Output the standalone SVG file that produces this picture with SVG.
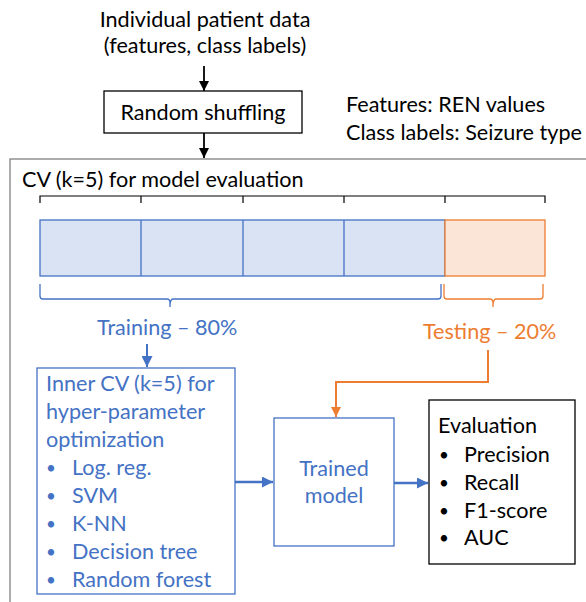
<svg xmlns="http://www.w3.org/2000/svg" width="586" height="602" viewBox="0 0 586 602">
<defs>
<style>
text{font-family:Lato,"Liberation Sans",sans-serif;font-size:21.6px;}
.k{fill:#000;}
.b{fill:#4472C4;}
.o{fill:#ED7D31;}
.m{text-anchor:middle;}
.dot{font-size:17px;}
</style>
<marker id="ak" viewBox="0 0 10 10" refX="10" refY="5" markerWidth="10" markerHeight="10" markerUnits="userSpaceOnUse" orient="auto"><path d="M0,0 L10,5 L0,10 z" fill="#000"/></marker>
<marker id="ab" viewBox="0 0 10 10" refX="10" refY="5" markerWidth="11" markerHeight="11" markerUnits="userSpaceOnUse" orient="auto"><path d="M0,0 L10,5 L0,10 z" fill="#4472C4"/></marker>
<marker id="ao" viewBox="0 0 10 10" refX="10" refY="5" markerWidth="10" markerHeight="10" markerUnits="userSpaceOnUse" orient="auto"><path d="M0,0 L10,5 L0,10 z" fill="#ED7D31"/></marker>
</defs>
<rect width="586" height="602" fill="#fff"/>

<g id="input">
<text class="k m" x="205" y="27">Individual patient data</text>
<text class="k m" x="205" y="53">(features, class labels)</text>
</g>
<g id="shuffle">
<rect x="104" y="91" width="198" height="42" fill="#fff" stroke="#000" stroke-width="1.3"/>
<text class="k m" x="203" y="120">Random shuffling</text>
</g>
<g id="legend">
<text class="k" x="346" y="112">Features: REN values</text>
<text class="k" x="346" y="140">Class labels: Seizure type</text>
</g>
<g id="outer">
<rect x="10" y="159" width="600" height="460" fill="none" stroke="#808080" stroke-width="1.3"/>
<text class="k" x="22" y="187">CV (k=5) for model evaluation</text>
</g>
<g id="folds">
<path d="M40,203 V196 H545 V203 M141,196 V203 M243,196 V203 M344,196 V203 M445,196 V203" fill="none" stroke="#000" stroke-width="1.2"/>
<rect x="40" y="220" width="405" height="56" fill="#DAE3F3" stroke="#4472C4" stroke-width="1.3"/>
<path d="M141,220 V276 M243,220 V276 M344,220 V276" stroke="#4472C4" stroke-width="1.3"/>
<rect x="445" y="220" width="100" height="56" fill="#FBE5D6" stroke="#ED7D31" stroke-width="1.3"/>
<path d="M40,284 V296 Q40,299 43,299 H167 Q170,299 170,303 V307 Q170,299 173,299 H438 Q441,299 441,296 V284" fill="none" stroke="#4472C4" stroke-width="1.3"/>
<path d="M444,284 V296 Q444,299 447,299 H490 Q493,299 493,303 V307 Q493,299 496,299 H540 Q543,299 543,296 V284" fill="none" stroke="#ED7D31" stroke-width="1.3"/>
<text class="b" x="97" y="335">Training – 80%</text>
<text class="o" x="423" y="339">Testing – 20%</text>
</g>
<g id="inner">
<rect x="37" y="368" width="198" height="226" fill="none" stroke="#4472C4" stroke-width="1.3"/>
<text class="b" x="46" y="391">Inner CV (k=5) for</text>
<text class="b" x="46" y="419">hyper-parameter</text>
<text class="b" x="46" y="447">optimization</text>
<text class="b dot" x="46" y="474">•</text><text class="b" x="72" y="475">Log. reg.</text>
<text class="b dot" x="46" y="502">•</text><text class="b" x="72" y="503">SVM</text>
<text class="b dot" x="46" y="530">•</text><text class="b" x="72" y="531">K-NN</text>
<text class="b dot" x="46" y="558">•</text><text class="b" x="72" y="559">Decision tree</text>
<text class="b dot" x="46" y="586">•</text><text class="b" x="72" y="587">Random forest</text>
</g>
<g id="trained">
<rect x="274" y="418" width="120" height="128" fill="none" stroke="#4472C4" stroke-width="1.3"/>
<text class="b m" x="334" y="476">Trained</text>
<text class="b m" x="334" y="503">model</text>
</g>
<g id="evaluation">
<rect x="429" y="400" width="146" height="164" fill="none" stroke="#000" stroke-width="1.3"/>
<text class="k" x="438" y="433">Evaluation</text>
<text class="k dot" x="439" y="461">•</text><text class="k" x="464" y="462">Precision</text>
<text class="k dot" x="439" y="489">•</text><text class="k" x="464" y="490">Recall</text>
<text class="k dot" x="439" y="517">•</text><text class="k" x="464" y="518">F1-score</text>
<text class="k dot" x="439" y="544">•</text><text class="k" x="464" y="545">AUC</text>
</g>
<g id="connectors" fill="none">
<path d="M204,66 V91" stroke="#000" stroke-width="1.8" marker-end="url(#ak)"/>
<path d="M204,133 V158" stroke="#000" stroke-width="1.8" marker-end="url(#ak)"/>
<path d="M147,344 V367" stroke="#4472C4" stroke-width="2" marker-end="url(#ab)"/>
<path d="M235,482 H273" stroke="#4472C4" stroke-width="2.5" marker-end="url(#ab)"/>
<path d="M394,483 H428" stroke="#4472C4" stroke-width="2.5" marker-end="url(#ab)"/>
<path d="M488,350 V382 H336 V417" stroke="#ED7D31" stroke-width="2" marker-end="url(#ao)"/>
</g>
</svg>
